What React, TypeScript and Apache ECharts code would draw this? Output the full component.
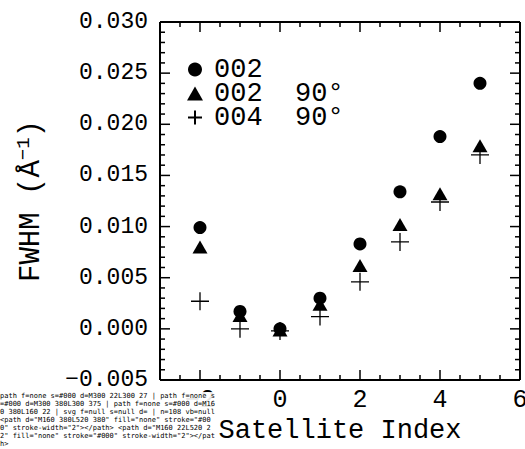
import React, { useEffect, useRef, useState } from "react";
import * as echarts from "echarts";

const satelliteIndex = [-2, -1, 0, 1, 2, 3, 4, 5];
const fwhm002 = [0.0099, 0.0017, 0.0, 0.003, 0.0083, 0.0134, 0.0188, 0.024];
const fwhm002at90 = [0.008, 0.0013, -0.0001, 0.0024, 0.0062, 0.0102, 0.0132, 0.0179];
const fwhm004at90 = [0.0027, 0.0, -0.0002, 0.0012, 0.0046, 0.0085, 0.0124, 0.017];
const seriesNames = ["002", "002  90°", "004  90°"];

const X_MIN = -3;
const X_MAX = 6;
const Y_MIN = -0.005;
const Y_MAX = 0.03;
const xMajorTicks = [-2, 0, 2, 4, 6];
const xMinorTicks = [-2.5, -1.5, -1, -0.5, 0.5, 1, 1.5, 2.5, 3, 3.5, 4.5, 5, 5.5];
const yMajorTicks = [0, 0.005, 0.01, 0.015, 0.02, 0.025];
const yMinorTicks = [
  -0.004, -0.003, -0.002, -0.001, 0.001, 0.002, 0.003, 0.004, 0.006, 0.007, 0.008, 0.009, 0.011, 0.012,
  0.013, 0.014, 0.016, 0.017, 0.018, 0.019, 0.021, 0.022, 0.023, 0.024, 0.026, 0.027, 0.028, 0.029,
];

const FONT = "Liberation Mono";
const minus = (s: string) => s.replace("-", "\u2212");

export default function App() {
  const ref = useRef<HTMLDivElement>(null);
  const [info, setInfo] = useState("");
  useEffect(() => {
    document.body.style.margin = "0";
    const chart = echarts.init(ref.current!, null, { renderer: "svg" });
    const pts = (ys: number[]) => satelliteIndex.map((x, i) => [x, ys[i]]);
    const MAJOR = 10;
    const MINOR = 5;
    const tickStyle = () => ({ stroke: "#000", lineWidth: 1.5, fill: null });
    const frameStyle = () => ({ stroke: "#000", lineWidth: 2, fill: null });
    const xTickData = [...xMajorTicks.map((v) => [v, MAJOR]), ...xMinorTicks.map((v) => [v, MINOR])];
    const yTickData = [...yMajorTicks.map((v) => [MAJOR, v]), ...yMinorTicks.map((v) => [MINOR, v])];
    chart.setOption({
      animation: false,
      grid: { left: 160, right: 5, top: 22, bottom: 69, containLabel: false, outerBoundsMode: "none" },
      legend: {
        orient: "vertical",
        left: 187,
        top: 56,
        padding: 0,
        itemWidth: 16,
        itemHeight: 14,
        itemGap: -3,
        selectedMode: false,
        data: seriesNames,
        textStyle: { fontFamily: FONT, fontSize: 27, color: "#000", padding: [0, 0, 0, 6] },
      },
      xAxis: {
        type: "value",
        min: X_MIN,
        max: X_MAX,
        position: "bottom",
        splitLine: { show: false },
        axisLine: { show: false, onZero: false },
        axisTick: { show: false },
        name: "Satellite Index",
        nameLocation: "middle",
        nameGap: 35,
        nameTextStyle: { fontFamily: FONT, fontSize: 27, color: "#000" },
        axisLabel: {
          customValues: xMajorTicks,
          margin: 8,
          fontFamily: FONT,
          fontSize: 25,
          color: "#000",
          formatter: (v: number) => minus(String(v)),
        },
      },
      yAxis: {
        type: "value",
        min: Y_MIN,
        max: Y_MAX,
        interval: 0.005,
        position: "left",
        splitLine: { show: false },
        axisLine: { show: false, onZero: false },
        axisTick: { show: false },
        name: "{n|FWHM (Å}{s|\u22121}{n|)}",
        nameLocation: "middle",
        nameGap: 112,
        nameRotate: 90,
        nameTextStyle: {
          rich: {
            n: { fontFamily: FONT, fontSize: 29, color: "#000", lineHeight: 34 },
            s: { fontFamily: FONT, fontSize: 19, color: "#000", verticalAlign: "top", lineHeight: 20 },
          },
        },
        axisLabel: {
          margin: 12,
          fontFamily: FONT,
          fontSize: 23,
          color: "#000",
          formatter: (v: number) => (Math.abs(v) < 1e-9 ? "0.000" : minus(v.toFixed(3))),
        },
      },
      series: [
        {
          type: "custom",
          silent: true,
          clip: false,
          z: 10,
          data: [[X_MIN, Y_MIN]],
          renderItem: (_p: any, api: any) => {
            const a = api.coord([X_MIN, Y_MIN]);
            const b = api.coord([X_MAX, Y_MAX]);
            return {
              type: "group",
              children: [
                { type: "line", shape: { x1: a[0], y1: a[1], x2: b[0], y2: a[1] }, style: frameStyle() },
                { type: "line", shape: { x1: a[0], y1: b[1], x2: b[0], y2: b[1] }, style: frameStyle() },
                { type: "line", shape: { x1: a[0], y1: a[1], x2: a[0], y2: b[1] }, style: frameStyle() },
                { type: "line", shape: { x1: b[0], y1: a[1], x2: b[0], y2: b[1] }, style: frameStyle() },
              ],
            };
          },
        },
        {
          type: "custom",
          silent: true,
          clip: false,
          z: 10,
          data: xTickData,
          renderItem: (_p: any, api: any) => {
            const x = api.value(0);
            const len = api.value(1);
            const b = api.coord([x, Y_MIN]);
            const t = api.coord([x, Y_MAX]);
            return {
              type: "group",
              children: [
                { type: "line", shape: { x1: b[0], y1: b[1], x2: b[0], y2: b[1] - len }, style: tickStyle() },
                { type: "line", shape: { x1: t[0], y1: t[1], x2: t[0], y2: t[1] + len }, style: tickStyle() },
              ],
            };
          },
        },
        {
          type: "custom",
          silent: true,
          clip: false,
          z: 10,
          data: yTickData,
          renderItem: (_p: any, api: any) => {
            const len = api.value(0);
            const y = api.value(1);
            const l = api.coord([X_MIN, y]);
            const r = api.coord([X_MAX, y]);
            return {
              type: "group",
              children: [
                { type: "line", shape: { x1: l[0], y1: l[1], x2: l[0] + len, y2: l[1] }, style: tickStyle() },
                { type: "line", shape: { x1: r[0], y1: r[1], x2: r[0] - len, y2: r[1] }, style: tickStyle() },
              ],
            };
          },
        },
        {
          name: seriesNames[0],
          type: "scatter",
          data: pts(fwhm002),
          symbol: "circle",
          symbolSize: 13,
          itemStyle: { color: "#000", opacity: 1 },
        },
        {
          name: seriesNames[1],
          type: "scatter",
          data: pts(fwhm002at90),
          symbol: "triangle",
          symbolSize: [15, 13],
          itemStyle: { color: "#000", opacity: 1 },
        },
        {
          name: seriesNames[2],
          type: "scatter",
          data: pts(fwhm004at90),
          symbol: "path://M0,9H18M9,0V18",
          symbolSize: 18,
          itemStyle: { color: "rgba(0,0,0,0)", borderColor: "#000", borderWidth: 1.3, opacity: 1 },
        },
      ],
    });
    const probes = [[300, 22], [300, 376], [161, 200], [300, 200]];
    const out = probes.map(([x, y]) => {
      const el = document.elementFromPoint(x, y) as Element | null;
      if (!el) return "null";
      return el.tagName + " f=" + el.getAttribute("fill") + " s=" + el.getAttribute("stroke") + " d=" + (el.getAttribute("d") || "").slice(0, 18);
    });
    const svg = ref.current!.querySelector("svg");
    const lines = Array.from(ref.current!.querySelectorAll("path")).filter((p) => /^M[\d.]+ [\d.]+L[\d.]+ [\d.]+$/.test(p.getAttribute("d") || ""));
    const sample = lines.slice(0, 2).map((p) => p.outerHTML.slice(0, 140)).join(" ");
    setInfo(out.join(" | ") + " | n=" + lines.length + " vb=" + (svg && svg.getAttribute("viewBox")) + " " + sample);
    return () => chart.dispose();
  }, []);
  return (
    <div>
      <div ref={ref} style={{ position: "absolute", left: 0, top: 0, width: 525, height: 449 }} />
      <div style={{ position: "absolute", left: 0, top: 392, width: 215, fontSize: 7, lineHeight: "8px", fontFamily: "DejaVu Sans Mono", wordBreak: "break-all", background: "rgba(255,255,255,0.9)" }}>{info}</div>
    </div>
  );
}
